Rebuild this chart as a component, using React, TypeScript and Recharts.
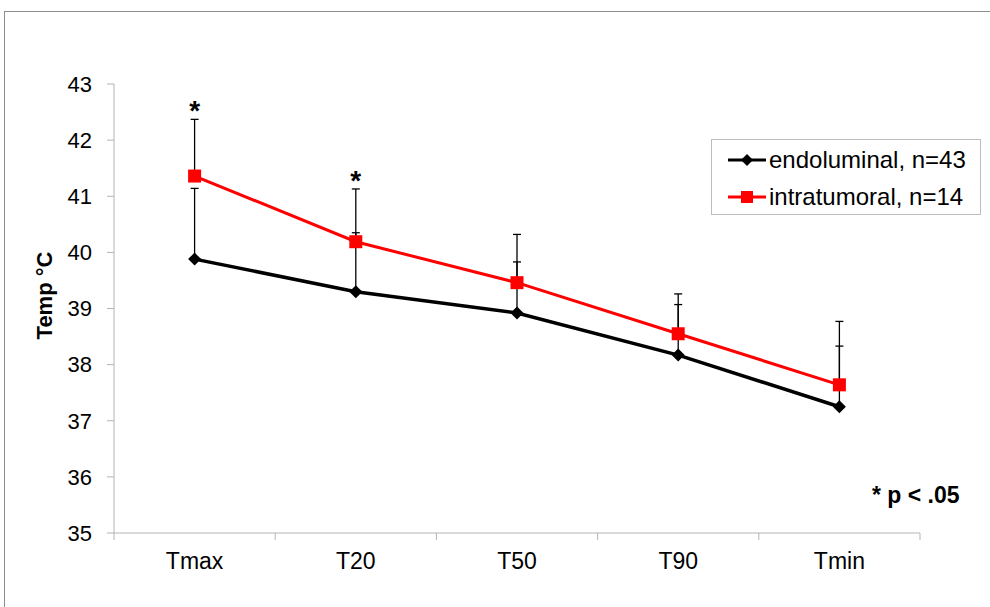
import { LineChart, Line, XAxis, YAxis, ErrorBar, LabelList } from "recharts";

const categories = ["Tmax", "T20", "T50", "T90", "Tmin"];
const endoluminal = [39.88, 39.3, 38.92, 38.17, 37.25];
const endoluminalSd = [1.26, 1.05, 0.91, 0.9, 1.08];
const intratumoral = [41.36, 40.19, 39.46, 38.55, 37.64];
const intratumoralSd = [1.01, 0.94, 0.86, 0.71, 1.13];
const significant = [true, true, false, false, false];
const yTicks = [35, 36, 37, 38, 39, 40, 41, 42, 43];
const xBounds = [0, 1, 2, 3, 4, 5];

const FONT = "'Liberation Sans', Arial, sans-serif";
const AXIS_GREY = "#b4b4b4";

// numeric x position at the middle of each category band, upper-only error bars
const rows = categories.map((cat, i) => ({
  cat,
  pos: i + 0.5,
  endo: endoluminal[i],
  endoErr: [0, endoluminalSd[i]],
  intra: intratumoral[i],
  intraErr: [0, intratumoralSd[i]],
  star: significant[i] ? intratumoral[i] + intratumoralSd[i] : null,
}));

const Diamond = (props: any) => {
  const { cx, cy } = props;
  if (cx == null || cy == null) return null;
  const r = 6.5;
  return (
    <path
      d={`M${cx},${cy - r}L${cx + r},${cy}L${cx},${cy + r}L${cx - r},${cy}Z`}
      fill="#000"
    />
  );
};

const Square = (props: any) => {
  const { cx, cy } = props;
  if (cx == null || cy == null) return null;
  const s = 13;
  return <rect x={cx - s / 2} y={cy - s / 2} width={s} height={s} fill="#ff0000" />;
};

// category names sit between the boundary ticks
const BandTick = (props: any) => {
  const { x, y, payload, width } = props;
  const i = payload.value;
  if (i >= categories.length) return null;
  const half = (width || 806) / categories.length / 2;
  return (
    <text x={x + half} y={y} dy="0.8em" textAnchor="middle" fontSize={23} fontFamily={FONT} fill="#000">
      {categories[i]}
    </text>
  );
};

const StarLabel = (props: any) => {
  const { x, y, value } = props;
  if (value == null || x == null || y == null) return null;
  return (
    <text x={x} y={y + 1} textAnchor="middle" fontSize={28} fontWeight="bold" fontFamily={FONT} fill="#000">
      *
    </text>
  );
};

const legendItems = [
  { label: "endoluminal, n=43", color: "#000", marker: "diamond" },
  { label: "intratumoral, n=14", color: "#ff0000", marker: "square" },
];

const LegendBox = () => (
  <div
    style={{
      position: "absolute",
      left: 711,
      top: 139,
      width: 268,
      height: 74,
      border: "1px solid #bdbdbd",
      background: "#fff",
      fontFamily: FONT,
      fontSize: 24,
      color: "#000",
    }}
  >
    {legendItems.map((item, k) => (
      <div key={item.label} style={{ position: "absolute", left: 16, top: 6 + k * 37, display: "flex", alignItems: "center", height: 28 }}>
        <svg width={40} height={20}>
          <line x1={0} y1={10} x2={38} y2={10} stroke={item.color} strokeWidth={3} />
          {item.marker === "diamond" ? (
            <path d="M19,4L25,10L19,16L13,10Z" fill={item.color} />
          ) : (
            <rect x={13} y={4} width={12} height={12} fill={item.color} />
          )}
        </svg>
        <span style={{ marginLeft: 1, lineHeight: "28px", whiteSpace: "nowrap" }}>{item.label}</span>
      </div>
    ))}
  </div>
);

export default function App() {
  return (
    <div style={{ position: "absolute", left: 0, top: 0, width: 990, height: 607, background: "#fff", overflow: "hidden" }}>
      <div
        style={{
          position: "absolute",
          left: 4,
          top: 11,
          width: 1100,
          height: 700,
          borderTop: "1.5px solid #8c8c8c",
          borderLeft: "1.5px solid #8c8c8c",
        }}
      />
      <div style={{ position: "absolute", left: 0, top: 0 }}>
        <LineChart
          width={990}
          height={607}
          data={rows}
          margin={{ top: 84, right: 70, left: 0, bottom: 34 }}
        >
          <XAxis
            dataKey="pos"
            type="number"
            domain={[0, 5]}
            ticks={xBounds}
            interval={0}
            height={40}
            tickSize={7}
            tickMargin={11}
            stroke={AXIS_GREY}
            tick={<BandTick />}
          />
          <YAxis
            domain={[35, 43]}
            ticks={yTicks}
            interval={0}
            width={114}
            tickSize={7}
            tickMargin={15}
            stroke={AXIS_GREY}
            tick={{ fontSize: 22, fontFamily: FONT, fill: "#000" }}
            label={{
              content: (p: any) => {
                const vb = p.viewBox || { x: 0, y: 84, width: 114, height: 449 };
                const cx = vb.x + 44;
                const cy = vb.y + vb.height / 2 - 13;
                return (
                  <text
                    x={cx}
                    y={cy}
                    transform={`rotate(-90, ${cx}, ${cy})`}
                    textAnchor="middle"
                    dominantBaseline="central"
                    fontSize={22}
                    fontWeight="bold"
                    fontFamily={FONT}
                    fill="#000"
                  >
                    Temp °C
                  </text>
                );
              },
            }}
          />
          <Line
            dataKey="endo"
            stroke="#000"
            strokeWidth={3.5}
            dot={<Diamond />}
            activeDot={false}
            isAnimationActive={false}
          >
            <ErrorBar dataKey="endoErr" direction="y" width={4} stroke="#000" strokeWidth={1.3} />
          </Line>
          <Line
            dataKey="intra"
            stroke="#ff0000"
            strokeWidth={3}
            dot={<Square />}
            activeDot={false}
            isAnimationActive={false}
          >
            <ErrorBar dataKey="intraErr" direction="y" width={4} stroke="#000" strokeWidth={1.3} />
          </Line>
          <Line
            dataKey="star"
            stroke="none"
            dot={false}
            activeDot={false}
            isAnimationActive={false}
          >
            <LabelList dataKey="star" content={<StarLabel />} />
          </Line>
        </LineChart>
      </div>
      <LegendBox />
      <div
        style={{
          position: "absolute",
          left: 872,
          top: 482,
          fontFamily: FONT,
          fontSize: 23,
          fontWeight: "bold",
          color: "#000",
          whiteSpace: "nowrap",
        }}
      >
        * p &lt; .05
      </div>
    </div>
  );
}
